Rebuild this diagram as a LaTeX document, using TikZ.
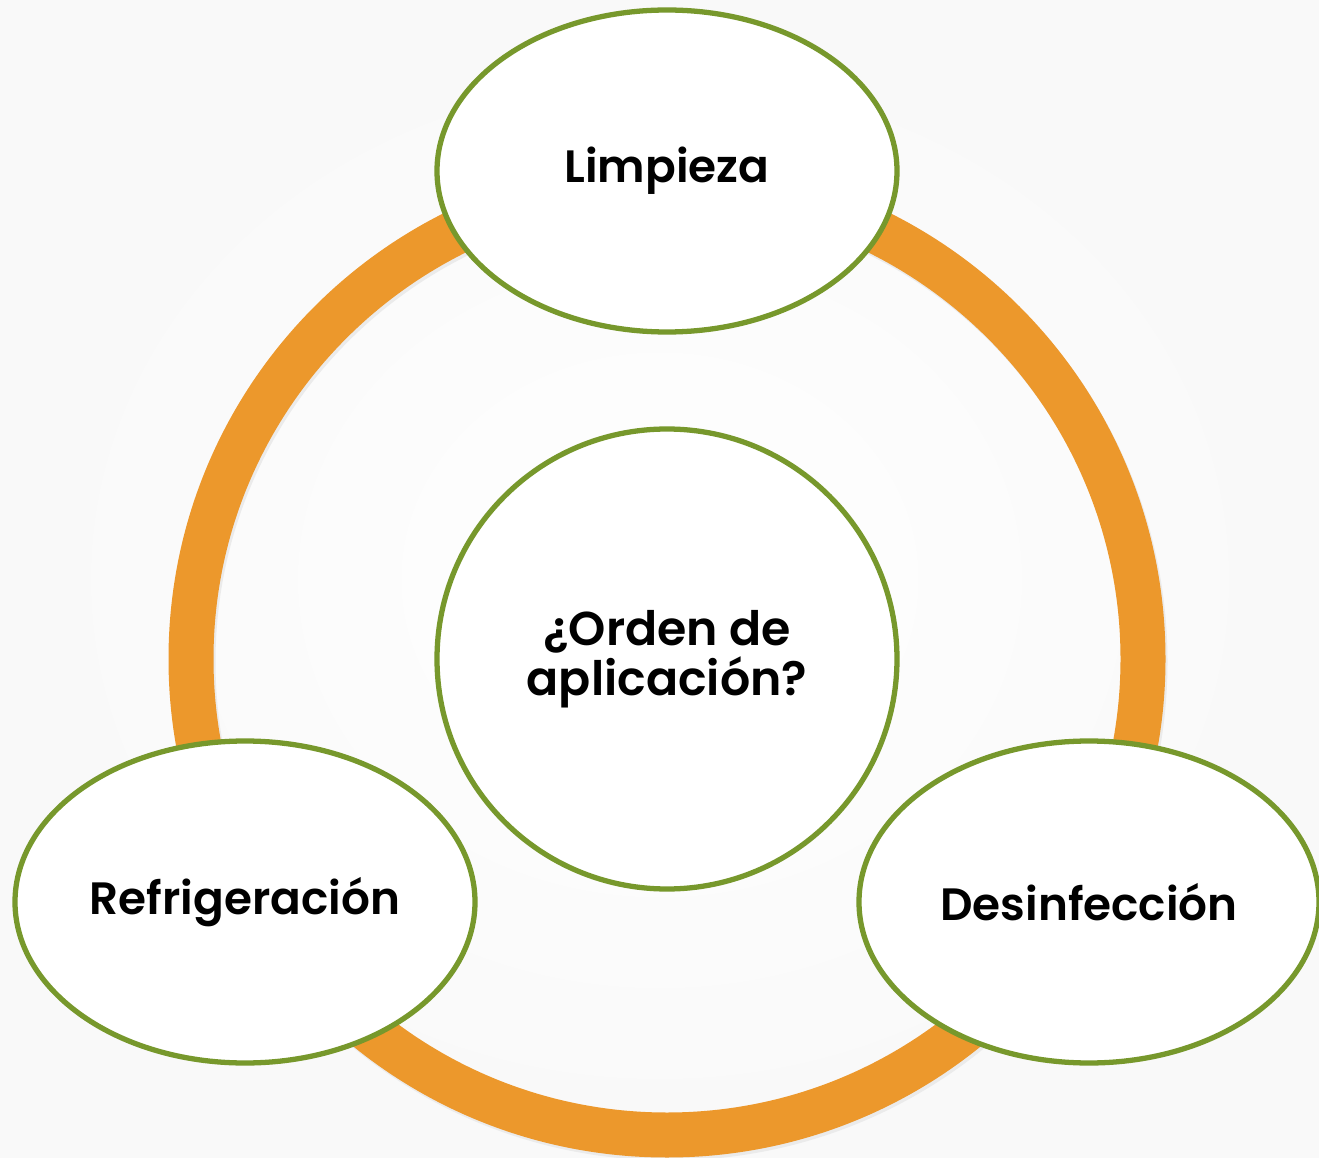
\documentclass[tikz,border=0pt]{standalone}
\usepackage{fontspec}
\setmainfont{Poppins}[BoldFont={Poppins SemiBold}]
\usepackage{tikz}
\usetikzlibrary{shapes}
\usetikzlibrary{positioning}
\definecolor{naranja}{RGB}{236,152,44}
\definecolor{oliva}{RGB}{119,152,44}
\newcommand*{\radioAnillo}{4.76}
\newcommand*{\anchoAnillo}{0.45}
\newcommand*{\anchoElipse}{4.6}
\newcommand*{\altoElipse}{3.22}
\tikzset{
	etapa/.style ={
		ellipse,draw=oliva,line width=1.5pt,fill=white,inner sep=0pt,
		minimum width=\anchoElipse cm,minimum height=\altoElipse cm,
		font=\fontsize{12.9}{14}\selectfont\bfseries
	},
	pregunta/.style ={
		circle,draw=oliva,line width=1.5pt,fill=white,
		minimum size=4.6cm,align=center,
		font=\fontsize{13.5}{14.2}\selectfont\bfseries
	}
}

\begin{document}
\begin{tikzpicture}
	\useasboundingbox (0,0) rectangle (13.19,-11.58);
	\shade[inner color=white,outer color=gray!5] (0,0) rectangle (13.19,-11.58);
	\coordinate(O) at (6.67,-6.59);
	% anillo
	\draw[line width=\anchoAnillo cm,black!8] ([shift={(0.02,-0.03)}]O) circle(\radioAnillo);
	\draw[line width=\anchoAnillo cm,naranja] (O) circle(\radioAnillo);
	
	\node[pregunta] (orden) at (O) {¿Orden de\\aplicación?};
	\node[etapa] (limpieza) at (6.67,-1.71) {\makebox[0pt]{Limpieza}};
	\node[etapa] (refrigeracion) at (2.45,-9.02) {\makebox[0pt]{Refrigeración}};
	\node[etapa] (desinfeccion) at (10.89,-9.02) {\makebox[0pt]{Desinfección}};
	
\end{tikzpicture}
\end{document}
